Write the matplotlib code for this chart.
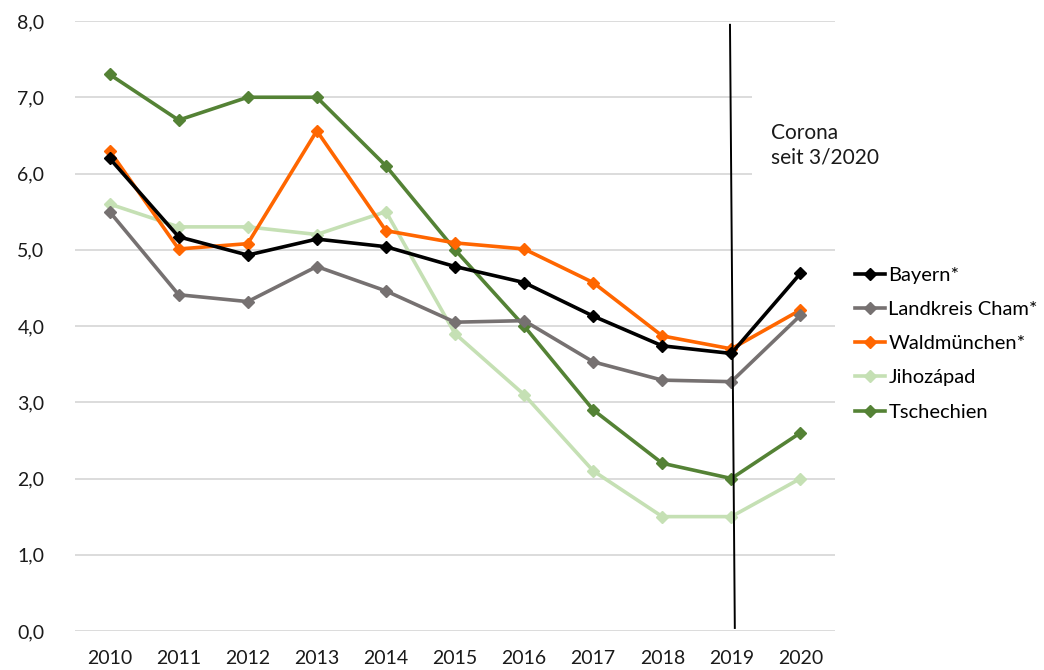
import matplotlib.pyplot as plt
from matplotlib.patches import Rectangle
from matplotlib.ticker import FuncFormatter

plt.rcParams['font.family'] = ['Lato', 'DejaVu Sans']

# Data
years = [2010, 2011, 2012, 2013, 2014, 2015, 2016, 2017, 2018, 2019, 2020]
bayern = [6.2, 5.17, 4.93, 5.14, 5.04, 4.78, 4.57, 4.13, 3.74, 3.64, 4.69]
cham = [5.5, 4.41, 4.32, 4.78, 4.46, 4.05, 4.07, 3.53, 3.29, 3.27, 4.14]
waldmuenchen = [6.3, 5.01, 5.08, 6.56, 5.25, 5.09, 5.01, 4.57, 3.87, 3.70, 4.21]
jihozapad = [5.6, 5.3, 5.3, 5.2, 5.5, 3.9, 3.1, 2.1, 1.5, 1.5, 2.0]
tschechien = [7.3, 6.7, 7.0, 7.0, 6.1, 5.0, 4.0, 2.9, 2.2, 2.0, 2.6]

series = [
    ('Bayern*', bayern, '#000000'),
    ('Landkreis Cham*', cham, '#767171'),
    ('Waldmünchen*', waldmuenchen, '#FF6600'),
    ('Jihozápad', jihozapad, '#C5E0B4'),
    ('Tschechien', tschechien, '#548235'),
]

fig = plt.figure(figsize=(10.44, 6.70), dpi=100)
ax = fig.add_axes([75 / 1044, 1 - 631 / 670, 760 / 1044, 610 / 670])

# draw in reverse so Bayern ends on top
for name, vals, col in series[::-1]:
    ax.plot(years, vals, color=col, lw=2.6, marker='D', markersize=5.8, label=name)

ax.set_xlim(2009.5, 2020.5)
ax.set_ylim(0, 8)
ax.set_xticks(years)
ax.set_yticks(range(0, 9))
ax.yaxis.set_major_formatter(FuncFormatter(lambda v, p: f'{v:.1f}'.replace('.', ',')))
ax.tick_params(length=0, labelsize=14, colors='#1a1a1a')
ax.tick_params(axis='y', pad=22)
ax.tick_params(axis='x', pad=14)
ax.grid(axis='y', color='#d9d9d9', lw=1.3)
ax.set_axisbelow(True)
for s in ax.spines.values():
    s.set_visible(False)

# white text box behind the annotation hides the grid lines there
ax.add_patch(Rectangle((2019.3, 5.8), 1.3, 1.5, facecolor='white', edgecolor='none',
                       zorder=1.5, clip_on=False))

# Corona marker line
ax.plot([2018.98, 2019.05], [7.95, 0.04], color='black', lw=1.4, clip_on=False, zorder=5)
ax.text(2019.57, 6.37, 'Corona\nseit 3/2020', fontsize=15, ha='left', va='center',
        linespacing=1.25, zorder=6, color='#1a1a1a')

handles, labels = ax.get_legend_handles_labels()
ax.legend(handles[::-1], labels[::-1], loc='center left', bbox_to_anchor=(1.0, 0.471),
          frameon=False, fontsize=14.5, handlelength=1.5, handletextpad=0.15,
          labelspacing=0.85, borderaxespad=0.6)

fig.savefig('out.png', dpi=100)
